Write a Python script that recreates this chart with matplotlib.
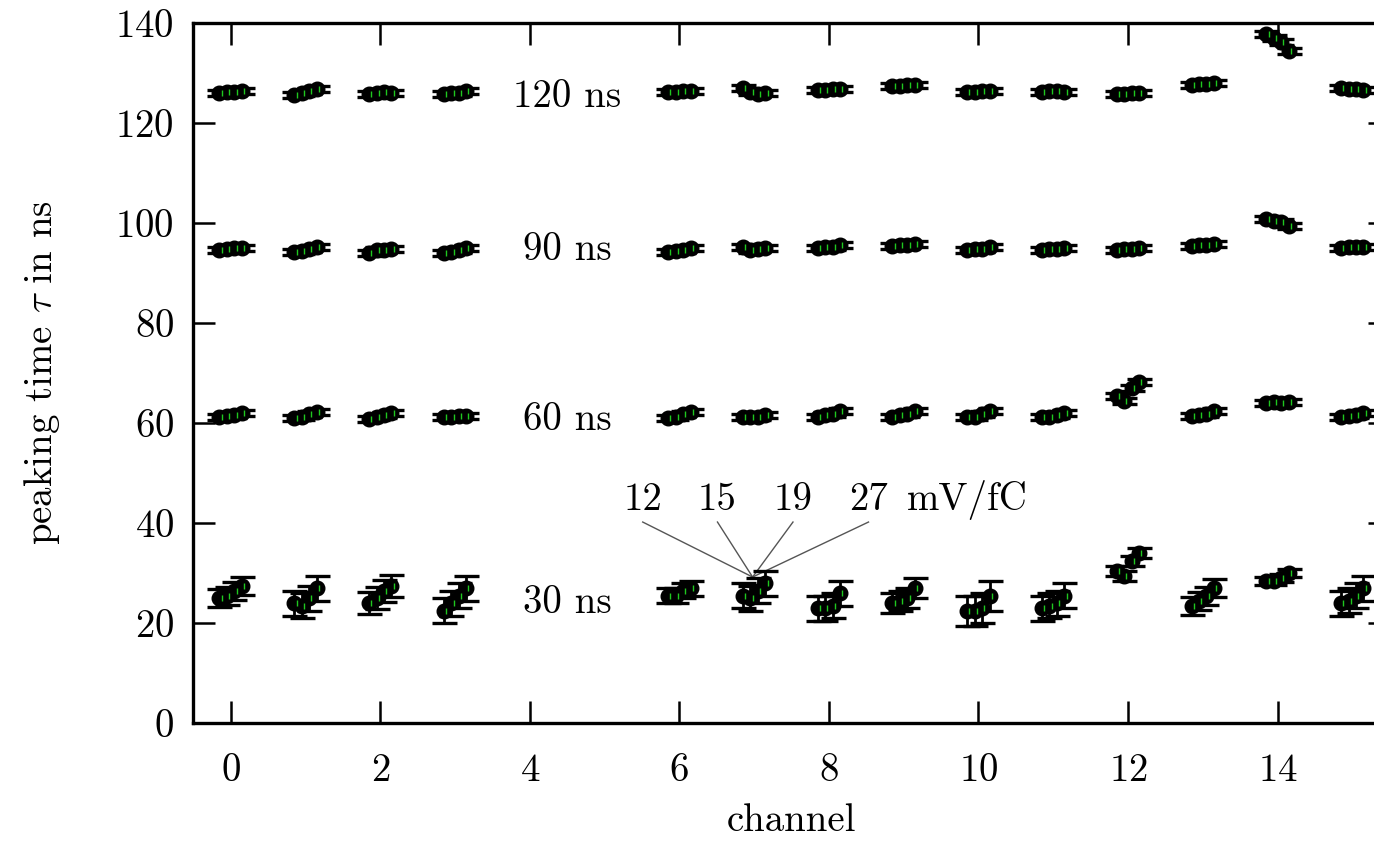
#!/usr/bin/env python3
import numpy as np
import matplotlib
matplotlib.use("Agg")
import matplotlib.pyplot as plt

# ---------------- Data ----------------
channels = [0, 1, 2, 3, 6, 7, 8, 9, 10, 11, 12, 13, 14, 15]
gains = [12, 15, 19, 27]            # mV/fC
gain_offset = [-0.15, -0.05, 0.05, 0.15]

tau_30 = [
    [25.0, 25.5, 26.5, 27.5], [24.0, 23.5, 25.0, 27.0], [24.0, 25.0, 26.5, 27.5],
    [22.5, 24.0, 25.5, 27.0], [25.5, 25.5, 26.5, 27.0], [25.5, 25.0, 26.5, 28.0],
    [23.0, 23.0, 23.5, 26.0], [24.0, 24.5, 25.0, 27.0], [22.5, 22.5, 23.0, 25.5],
    [23.0, 23.5, 24.0, 25.5], [30.5, 29.5, 32.5, 34.0], [23.5, 24.5, 25.5, 27.0],
    [28.5, 28.5, 29.0, 30.0], [24.0, 24.5, 25.5, 27.0],
]
err_30 = [1.8, 2.5, 2.2, 2.5, 1.5, 2.5, 2.5, 2.0, 3.0, 2.5, 1.0, 1.8, 0.8, 2.5]

tau_60 = [
    [61.2, 61.4, 61.6, 62.0], [61.0, 61.3, 61.8, 62.2], [60.8, 61.2, 61.6, 62.0],
    [61.2, 61.3, 61.5, 61.5], [61.0, 61.3, 61.8, 62.3], [61.3, 61.3, 61.3, 61.6],
    [61.3, 61.6, 61.8, 62.5], [61.3, 61.6, 61.9, 62.5], [61.2, 61.3, 61.8, 62.5],
    [61.2, 61.3, 61.6, 62.0], [65.5, 64.5, 67.0, 68.2], [61.5, 61.6, 61.9, 62.5],
    [64.0, 64.3, 64.0, 64.3], [61.3, 61.5, 61.7, 62.0],
]
tau_90 = [
    [94.6, 94.8, 95.0, 95.0], [94.2, 94.5, 94.8, 95.2], [94.0, 94.6, 94.6, 94.8],
    [94.0, 94.2, 94.6, 95.0], [94.2, 94.5, 94.7, 95.0], [95.2, 94.6, 94.8, 95.0],
    [95.0, 95.2, 95.3, 95.6], [95.4, 95.6, 95.7, 95.8], [94.6, 94.8, 94.8, 95.2],
    [94.6, 94.8, 94.8, 95.0], [94.6, 94.8, 94.8, 95.0], [95.4, 95.6, 95.7, 95.9],
    [100.8, 100.5, 100.2, 99.5], [95.0, 95.2, 95.2, 95.3],
]
tau_120 = [
    [126.0, 126.2, 126.2, 126.4], [125.6, 126.0, 126.4, 126.8], [125.8, 126.0, 126.2, 126.0],
    [125.8, 126.0, 126.0, 126.4], [126.2, 126.2, 126.4, 126.4], [127.0, 126.2, 125.8, 126.0],
    [126.6, 126.6, 126.8, 126.8], [127.4, 127.4, 127.6, 127.6], [126.2, 126.2, 126.4, 126.4],
    [126.2, 126.4, 126.4, 126.2], [125.8, 125.8, 126.0, 126.0], [127.6, 127.8, 127.8, 128.0],
    [137.8, 137.0, 136.2, 134.5], [127.0, 126.8, 126.8, 126.6],
]
err_small = 0.6

shaping_labels = ["30 ns", "60 ns", "90 ns", "120 ns"]
label_y = [24, 60.6, 94.6, 125.2]

# ---------------- Style ----------------
plt.rcParams["font.family"] = ["cmr10", "DejaVu Serif"]
plt.rcParams["mathtext.fontset"] = "cm"
plt.rcParams["axes.formatter.use_mathtext"] = True
FS = 28

fig = plt.figure(figsize=(13.74, 8.43), dpi=100)
ax = fig.add_axes([0.1407, 0.1423, 0.8707, 0.8304])


def draw_group(values, errs):
    for i, ch in enumerate(channels):
        for j, off in enumerate(gain_offset):
            x = ch + off
            y = values[i][j]
            e = errs[i] if np.ndim(errs) else errs
            ax.errorbar(x, y, yerr=e, fmt="o", color="black", ms=10.5,
                        elinewidth=2.0, capsize=9, capthick=2.4, zorder=3)
            ax.plot(x + 0.03, y, marker="|", color="#1fc81f", ms=5,
                    mew=1.0, ls="none", zorder=4)


draw_group(tau_30, err_30)
draw_group(tau_60, err_small)
draw_group(tau_90, err_small)
draw_group(tau_120, err_small)

for lab, y in zip(shaping_labels, label_y):
    ax.text(4.5, y, lab, fontsize=FS, ha="center", va="center")

# gain annotation
for g, gx in zip(gains, [5.51, 6.51, 7.52, 8.53]):
    ax.text(gx, 44.6, str(g), fontsize=FS, ha="center", va="center")
    ax.plot([gx, 6.98], [40.2, 29.2], color="#555555", lw=1.0, zorder=2)
ax.text(9.85, 44.6, "mV/fC", fontsize=FS, ha="center", va="center")

# ---------------- Axes ----------------
ax.set_xlim(-0.5, 15.5)
ax.set_ylim(0, 140)
ax.set_xticks(range(0, 16, 2))
ax.set_yticks(range(0, 141, 20))
ax.tick_params(direction="in", length=16, width=1.8, labelsize=FS,
               top=True, right=True)
ax.tick_params(axis="x", pad=22)
ax.tick_params(axis="y", pad=14)
for s in ax.spines.values():
    s.set_linewidth(2.4)

ax.set_xlabel("channel", fontsize=FS, labelpad=10)
ax.set_ylabel(r"peaking time $\tau$ in ns", fontsize=FS, labelpad=38)

fig.savefig("out.png", dpi=100)
